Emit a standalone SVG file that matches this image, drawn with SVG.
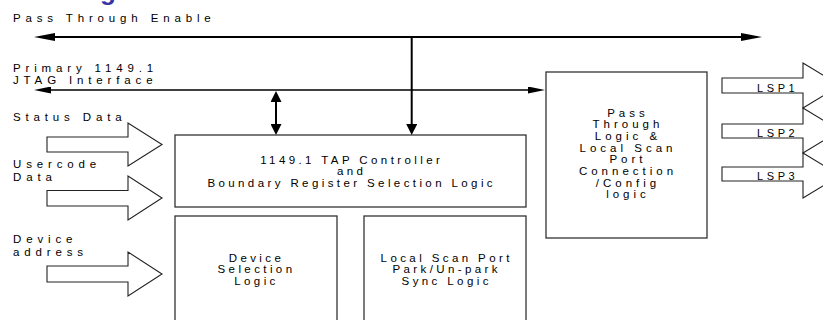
<svg xmlns="http://www.w3.org/2000/svg" width="823" height="320" viewBox="0 0 823 320">
<style>
  text { font-family: "Liberation Sans", Arial, sans-serif; fill: #000; }
  .lbl { font-size: 11.5px; letter-spacing: 4.85px; }
  .bt { font-size: 11.5px; letter-spacing: 3.4px; text-anchor: middle; }
  .pt { font-size: 11.5px; letter-spacing: 4px; text-anchor: middle; }
  .lsp { font-size: 11px; letter-spacing: 3.6px; }
  .box { fill: #fff; stroke: #333; stroke-width: 1.3; }
  .blk { fill: #fff; stroke: #222; stroke-width: 1.1; }
  .ln { fill: none; stroke: #000; }
  .title { font-size: 26px; font-weight: bold; fill: #3535a5; }
</style>
<defs>
  <marker id="ahBig" viewBox="0 0 21 8" refX="15" refY="4" markerWidth="21" markerHeight="8" markerUnits="userSpaceOnUse" orient="auto-start-reverse">
    <path d="M0,0 L21,4 L0,8 z" fill="#000"/>
  </marker>
  <marker id="ahMid" viewBox="0 0 17 7" refX="12" refY="3.5" markerWidth="17" markerHeight="7" markerUnits="userSpaceOnUse" orient="auto-start-reverse">
    <path d="M0,0 L17,3.5 L0,7 z" fill="#000"/>
  </marker>
  <marker id="ahSm" viewBox="0 0 11 11" refX="7" refY="5.5" markerWidth="11" markerHeight="11" markerUnits="userSpaceOnUse" orient="auto-start-reverse">
    <path d="M0,0 L11,5.5 L0,11 z" fill="#000"/>
  </marker>
</defs>

<!-- cropped title fragment -->
<text class="title" x="100" y="-0.5">g</text>

<!-- left labels -->
<g id="lbl-pte"><text class="lbl" x="13" y="22">Pass Through Enable</text></g>
<g id="lbl-jtag">
  <text class="lbl" x="13" y="71.5">Primary 1149.1</text>
  <text class="lbl" x="13" y="84">JTAG Interface</text>
</g>
<g id="lbl-status"><text class="lbl" x="13" y="121">Status Data</text></g>
<g id="lbl-usercode">
  <text class="lbl" x="13" y="168">Usercode</text>
  <text class="lbl" x="13" y="181">Data</text>
</g>
<g id="lbl-device">
  <text class="lbl" x="13" y="243">Device</text>
  <text class="lbl" x="13" y="255.5">address</text>
</g>

<!-- input block arrows -->
<g id="in-status"><polygon class="blk" points="47,137 128,137 128,123 162,144.5 128,166 128,152 47,152"/></g>
<g id="in-usercode"><polygon class="blk" points="47,190.5 128,190.5 128,176 162,198 128,220 128,206 47,206"/></g>
<g id="in-device"><polygon class="blk" points="47,266 128,266 128,252 162,274 128,296 128,282 47,282"/></g>

<!-- TAP controller -->
<g id="tap">
  <rect class="box" x="175" y="135" width="351" height="72"/>
  <text class="bt" x="351.7" y="163.5">1149.1 TAP Controller</text>
  <text class="bt" x="351.7" y="174.5">and</text>
  <text class="bt" x="351.7" y="186.5">Boundary Register Selection Logic</text>
</g>

<!-- Device selection -->
<g id="devsel">
  <rect class="box" x="175" y="216" width="162" height="110"/>
  <text class="bt" x="256.5" y="261.5">Device</text>
  <text class="bt" x="256.5" y="273">Selection</text>
  <text class="bt" x="256.5" y="284.5">Logic</text>
</g>

<!-- Local scan port park -->
<g id="lspsync">
  <rect class="box" x="364" y="216" width="162" height="110"/>
  <text class="bt" x="446.7" y="261.5">Local Scan Port</text>
  <text class="bt" x="446.7" y="273">Park/Un-park</text>
  <text class="bt" x="446.7" y="284.5">Sync Logic</text>
</g>

<!-- Pass through logic -->
<g id="passthru">
  <rect class="box" x="546" y="72" width="161" height="166"/>
  <text class="pt" x="628" y="116.5">Pass</text>
  <text class="pt" x="628" y="128.2">Through</text>
  <text class="pt" x="628" y="139.9">Logic &amp;</text>
  <text class="pt" x="628" y="151.6">Local Scan</text>
  <text class="pt" x="628" y="163.3">Port</text>
  <text class="pt" x="628" y="175">Connection</text>
  <text class="pt" x="628" y="186.7">/Config</text>
  <text class="pt" x="628" y="198.4">logic</text>
</g>

<!-- LSP outputs -->
<g id="lsp1">
  <polygon class="blk" points="722,78 803,78 803,63 840,85.5 803,108 803,93 722,93"/>
  <text class="lsp" x="757" y="91.5">LSP1</text>
</g>
<g id="lsp2">
  <polygon class="blk" points="722,124 803,124 803,108 840,130.5 803,153 803,138 722,138"/>
  <text class="lsp" x="757" y="137">LSP2</text>
</g>
<g id="lsp3">
  <polygon class="blk" points="722,167 803,167 803,153 840,175.5 803,198 803,181 722,181"/>
  <text class="lsp" x="757" y="179.5">LSP3</text>
</g>

<!-- connectors -->
<g id="connectors">
  <path class="ln" d="M40,37 H756" stroke-width="2" marker-start="url(#ahBig)" marker-end="url(#ahBig)"/>
  <path class="ln" d="M411.7,37 V131" stroke-width="2" marker-end="url(#ahSm)"/>
  <path class="ln" d="M39,90 H540" stroke-width="1.5" marker-start="url(#ahMid)" marker-end="url(#ahMid)"/>
  <path class="ln" d="M276,95 V131" stroke-width="2" marker-start="url(#ahSm)" marker-end="url(#ahSm)"/>
</g>
</svg>
